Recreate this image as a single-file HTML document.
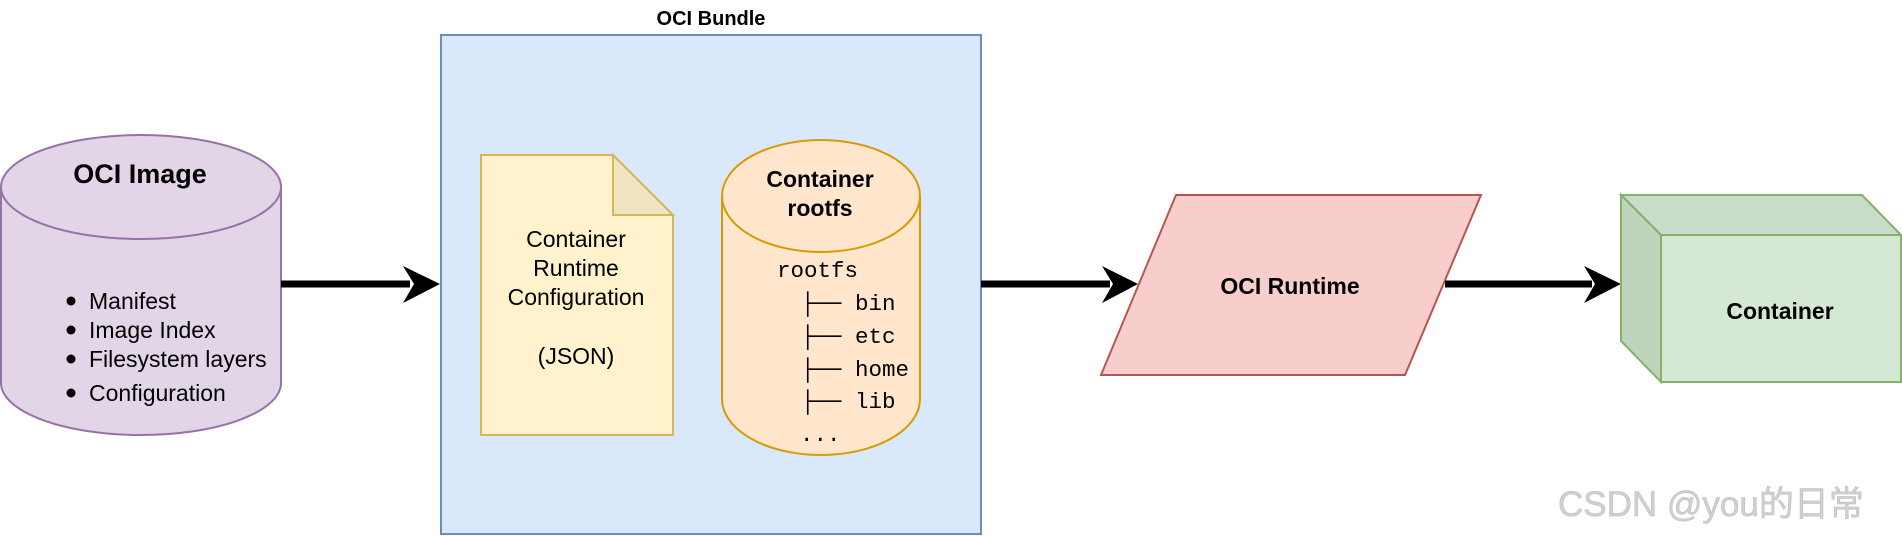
<!DOCTYPE html>
<html><head><meta charset="utf-8"><style>
html,body{margin:0;padding:0;background:#fff;}
svg{display:block;}
text{font-family:"Liberation Sans",sans-serif;}
.m{font-family:"Liberation Mono",monospace;font-size:22.5px;}
</style></head><body>
<svg width="1902" height="536" viewBox="0 0 1902 536" xmlns="http://www.w3.org/2000/svg">
<rect x="441" y="35" width="540" height="499" fill="#dae8fc" stroke="#6c8ebf" stroke-width="2"/>
<text x="711" y="25" font-size="20" font-weight="bold" text-anchor="middle">OCI Bundle</text>

<path d="M1,187 L1,383 A140,52 0 0 0 281,383 L281,187" fill="#e1d5e7" stroke="#9673a6" stroke-width="2"/>
<ellipse cx="141" cy="187" rx="140" ry="52" fill="#e1d5e7" stroke="#9673a6" stroke-width="2"/>
<text x="140" y="183" font-size="27" font-weight="bold" text-anchor="middle">OCI Image</text>
<g font-size="23">
<circle cx="71" cy="301" r="4.5"/><text x="89" y="309">Manifest</text>
<circle cx="71" cy="330" r="4.5"/><text x="89" y="338">Image Index</text>
<circle cx="71" cy="359" r="4.5"/><text x="89" y="367">Filesystem layers</text>
<circle cx="71" cy="393" r="4.5"/><text x="89" y="401">Configuration</text>
</g>

<line x1="281" y1="284" x2="410" y2="284" stroke="#000" stroke-width="7"/>
<path d="M440,284 L403,266 L414,284 L403,303 Z" fill="#000"/>

<path d="M481,155 L613,155 L673,215 L673,435 L481,435 Z" fill="#fff2cc" stroke="#d6b656" stroke-width="2"/>
<path d="M613,155 L613,215 L673,215 Z" fill="#f1e4c0" stroke="#d6b656" stroke-width="2"/>
<g font-size="23" text-anchor="middle">
<text x="576" y="247">Container</text>
<text x="576" y="276">Runtime</text>
<text x="576" y="305">Configuration</text>
<text x="576" y="364">(JSON)</text>
</g>

<path d="M722,196 L722,399 A99,56 0 0 0 920,399 L920,196" fill="#ffe6cc" stroke="#d79b00" stroke-width="2"/>
<ellipse cx="821" cy="196" rx="99" ry="56" fill="#ffe6cc" stroke="#d79b00" stroke-width="2"/>
<g font-size="23" font-weight="bold" text-anchor="middle">
<text x="820" y="187">Container</text>
<text x="820" y="216">rootfs</text>
</g>
<text class="m" x="777" y="277">rootfs</text>
<text class="m" x="801" y="310">├── bin</text>
<text class="m" x="801" y="343">├── etc</text>
<text class="m" x="801" y="376">├── home</text>
<text class="m" x="801" y="408">├── lib</text>
<text class="m" x="800" y="441">...</text>

<line x1="981" y1="284" x2="1110" y2="284" stroke="#000" stroke-width="7"/>
<path d="M1138,284 L1102,266 L1113,284 L1102,303 Z" fill="#000"/>

<path d="M1176,195 L1481,195 L1405,375 L1101,375 Z" fill="#f8cecc" stroke="#b85450" stroke-width="2"/>
<text x="1290" y="294" font-size="23" font-weight="bold" text-anchor="middle">OCI Runtime</text>

<line x1="1445" y1="284" x2="1592" y2="284" stroke="#000" stroke-width="7"/>
<path d="M1621,284 L1584,266 L1595,284 L1584,303 Z" fill="#000"/>

<path d="M1621,195 L1862,195 L1901,235 L1661,235 Z" fill="#c9dcc8" stroke="#82b366" stroke-width="2"/>
<path d="M1621,195 L1661,235 L1661,382 L1621,341 Z" fill="#bfd3bd" stroke="#82b366" stroke-width="2"/>
<rect x="1661" y="235" width="240" height="147" fill="#d5e8d4" stroke="#82b366" stroke-width="2"/>
<text x="1780" y="319" font-size="23" font-weight="bold" text-anchor="middle">Container</text>

<text x="1558" y="516" font-size="35" fill="#d0d0d0" stroke="#bbb" stroke-width="0.5" style="font-family:'Liberation Sans','Noto Sans CJK SC',sans-serif">CSDN @you的日常</text>
</svg>
</body></html>
